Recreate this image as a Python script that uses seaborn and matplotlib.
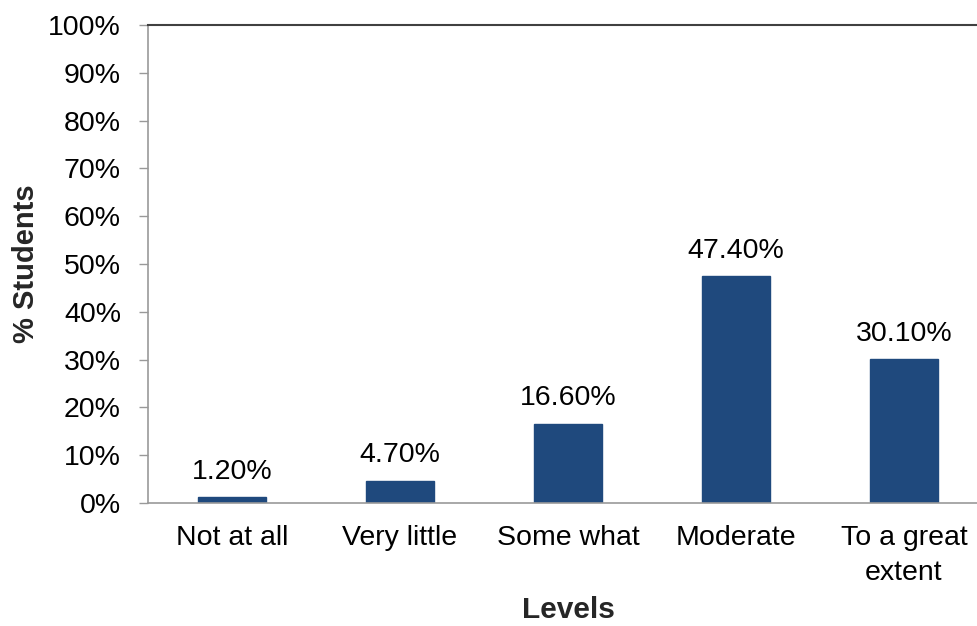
import matplotlib
matplotlib.use("Agg")
import matplotlib.pyplot as plt
import seaborn as sns
import pandas as pd

categories = ["Not at all", "Very little", "Some what", "Moderate", "To a great\nextent"]
values = [1.2, 4.7, 16.6, 47.4, 30.1]
yticks = list(range(0, 101, 10))

sns.set_style("white")
plt.rcParams['font.family'] = ['Liberation Sans', 'DejaVu Sans']

df = pd.DataFrame({"Levels": categories, "Pct": values})

fig = plt.figure(figsize=(9.78, 6.26), dpi=100)
ax = fig.add_axes([148/978, 1 - 503/626, 840/978, (503 - 25)/626])
sns.barplot(data=df, x="Levels", y="Pct", color="#1F497D", width=0.40,
            saturation=1, ax=ax, edgecolor="#1F497D")

fs = 20.5
ax.set_ylim(0, 100)
ax.set_xlim(-0.5, 4.5)
ax.set_yticks(yticks)
ax.set_yticklabels([f"{t}%" for t in yticks], fontsize=fs, color="black")
ax.tick_params(axis="y", which="major", direction="out", length=6.5, width=1,
               color="#999999", left=True, pad=13)
ax.tick_params(axis="x", length=0, pad=16, labelsize=fs, labelcolor="black")
for lbl in ax.get_xticklabels():
    lbl.set_linespacing(1.45)

for s in ["left", "bottom"]:
    ax.spines[s].set_color("#999999")
    ax.spines[s].set_linewidth(1.2)
ax.spines["top"].set_color("#404040")
ax.spines["top"].set_linewidth(1.5)
ax.spines["right"].set_visible(False)

for i, v in enumerate(values):
    ax.annotate(f"{v:.2f}%", (i, v), xytext=(0, 9), textcoords="offset points",
                ha="center", va="bottom", fontsize=fs, color="black")

ax.set_xlabel("Levels", fontsize=21.5, fontweight="bold", labelpad=7)
ax.set_ylabel("% Students", fontsize=21, fontweight="bold", labelpad=6)

fig.savefig("out.png", dpi=100)
